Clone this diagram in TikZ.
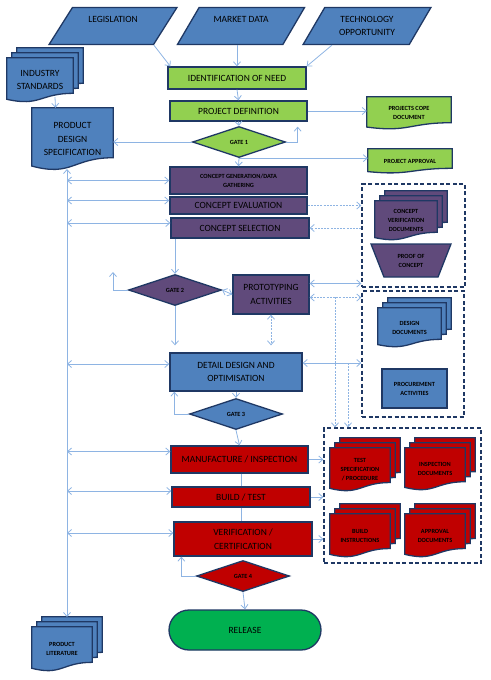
\documentclass[tikz,border=0pt]{standalone}
\usepackage{fontspec}
\setmainfont{Carlito}
\usetikzlibrary{shapes.geometric,arrows.meta,calc}
\pgfdeclarelayer{background}
\pgfsetlayers{background,main}

\definecolor{boxblue}{HTML}{4F81BD}
\definecolor{boxgreen}{HTML}{92D050}
\definecolor{boxpurple}{HTML}{604A7B}
\definecolor{boxred}{HTML}{C00000}
\definecolor{relgreen}{HTML}{00B050}
\definecolor{edgenavy}{HTML}{1F3864}
\definecolor{linkblue}{HTML}{8EB4E3}

\newcommand{\bigtxt}{\fontsize{9.5}{13.5}\selectfont}
\newcommand{\smalltxt}{\fontsize{6.3}{9}\selectfont\bfseries}

% document shape drawn round a node
\newcommand{\docpath}[3][]{%
  \draw[shapeline,fill=#3,#1] (#2.north west) -- (#2.north east)
    -- ($(#2.north east)!0.8!(#2.south east)$)
    .. controls ($(#2.north)!0.8!(#2.south)$) and ($(#2.north)!1.108!(#2.south)$)
    .. ($(#2.north west)!0.934!(#2.south west)$) -- cycle;}
\newcommand{\multidoc}[2]{%
  \docpath[transform canvas={shift={(10pt,10pt)}}]{#1}{#2}
  \docpath[transform canvas={shift={(5pt,5pt)}}]{#1}{#2}
  \docpath{#1}{#2}}

\tikzset{
  barb/.tip={Straight Barb[length=4pt,width=7pt]},
  shapeline/.style={draw=edgenavy,line width=1.3pt},
  stage/.style={shapeline,rectangle,inner sep=1pt,align=center,font=\bigtxt},
  iobox/.style={shapeline,fill=boxblue,trapezium,trapezium left angle=54,
    trapezium right angle=126,trapezium stretches=true,minimum width=128pt,
    minimum height=37pt,inner sep=0pt,align=center,font=\bigtxt},
  gate/.style={shapeline,diamond,aspect=3,inner sep=0pt,minimum width=93pt,
    minimum height=31pt,font=\smalltxt},
  doc/.style={inner sep=0pt,align=center},
  groupbox/.style={draw=edgenavy,line width=1.3pt,dash pattern=on 4pt off 2.5pt,inner sep=0pt},
  link/.style={draw=linkblue,line width=0.8pt,-barb},
  dlink/.style={link,barb-barb},
  dotlink/.style={dash pattern=on 2pt off 1.2pt}
}

\begin{document}
\begin{tikzpicture}[x=1pt,y=-1pt]
  \useasboundingbox (0,0) rectangle (490,680);

  % inputs
  \node[iobox] (leg) at (113,26) {LEGISLATION\\~};
  \node[iobox] (mkt) at (241,26) {MARKET DATA\\~};
  \node[iobox] (tech) at (367,26) {TECHNOLOGY\\OPPORTUNITY};

  % need and definition
  \node[stage,fill=boxgreen,minimum width=138pt,minimum height=22pt] (idn) at (237,78) {IDENTIFICATION OF NEED};
  \node[stage,fill=boxgreen,minimum width=137pt,minimum height=20pt] (pdef) at (238.5,111) {PROJECT DEFINITION};
  \node[gate,fill=boxgreen] (gate1) at (239,142) {GATE 1};
  \node[doc,font=\smalltxt,minimum width=84pt,minimum height=32pt] (psd) at (409,113) {PROJECTS COPE\\DOCUMENT};
  \node[doc,font=\smalltxt,minimum width=84pt,minimum height=24pt] (pappr) at (410,161) {PROJECT APPROVAL};
  \node[doc,font=\bigtxt,minimum width=66pt,minimum height=44pt] (indstd) at (40,80) {INDUSTRY\\STANDARDS};
  \node[doc,font=\bigtxt,minimum width=81pt,minimum height=62pt] (pds) at (72.5,139) {PRODUCT\\DESIGN\\SPECIFICATION};

  % concept
  \node[stage,fill=boxpurple,font=\smalltxt,minimum width=137pt,minimum height=27pt] (cgen) at (238.5,180.5) {CONCEPT GENERATION/DATA\\GATHERING};
  \node[stage,fill=boxpurple,minimum width=137pt,minimum height=17pt] (ceval) at (238.5,205.5) {CONCEPT EVALUATION};
  \node[stage,fill=boxpurple,minimum width=138pt,minimum height=20pt] (csel) at (240,228) {CONCEPT SELECTION};
  \node[groupbox,minimum width=103pt,minimum height=103pt] (grpA) at (413.5,235.5) {};
  \node[doc,font=\smalltxt,minimum width=62pt,minimum height=39pt] (cvd) at (406,220.5) {CONCEPT\\VERIFICATION\\DOCUMENTS};
  \node[shapeline,fill=boxpurple,trapezium,trapezium left angle=116,trapezium right angle=116,
    trapezium stretches=true,minimum width=80pt,minimum height=33pt,inner sep=0pt,
    align=center,font=\smalltxt] (poc) at (411,260.5) {PROOF OF\\CONCEPT};
  \node[gate,fill=boxpurple] (gate2) at (175,290) {GATE 2};
  \node[stage,fill=boxpurple,minimum width=76pt,minimum height=39pt] (proto) at (271,294.5) {PROTOTYPING\\ACTIVITIES};

  % detail design
  \node[groupbox,minimum width=102pt,minimum height=126pt] (grpB) at (413,354) {};
  \node[doc,font=\smalltxt,minimum width=63pt,minimum height=39pt] (ddoc) at (409.5,327.5) {DESIGN\\DOCUMENTS};
  \node[stage,fill=boxblue,font=\smalltxt,minimum width=65pt,minimum height=39pt] (proc) at (414.5,388.5) {PROCUREMENT\\ACTIVITIES};
  \node[stage,fill=boxblue,minimum width=132pt,minimum height=38pt] (dd) at (236,372) {DETAIL DESIGN AND\\OPTIMISATION};
  \node[gate,fill=boxblue] (gate3) at (236,414) {GATE 3};

  % manufacture
  \node[groupbox,minimum width=157pt,minimum height=135pt] (grpC) at (402.5,495.5) {};
  \node[stage,fill=boxred,minimum width=137pt,minimum height=27pt] (mfg) at (239.5,459.5) {MANUFACTURE / INSPECTION};
  \node[stage,fill=boxred,minimum width=138pt,minimum height=20pt] (build) at (241,497) {BUILD / TEST};
  \node[stage,fill=boxred,minimum width=138pt,minimum height=34pt] (verif) at (243,539) {VERIFICATION /\\CERTIFICATION};
  \node[gate,fill=boxred] (gate4) at (243,576) {GATE 4};
  \node[stage,fill=relgreen,rounded corners=20pt,minimum width=152pt,minimum height=40pt] (rel) at (245,630) {RELEASE};
  \node[doc,font=\smalltxt,minimum width=60pt,minimum height=43pt] (tsp) at (360,469.5) {TEST\\SPECIFICATION\\/ PROCEDURE};
  \node[doc,font=\smalltxt,minimum width=60pt,minimum height=42pt] (insp) at (435,469) {INSPECTION\\DOCUMENTS};
  \node[doc,font=\smalltxt,minimum width=60pt,minimum height=43pt] (bins) at (360,535.5) {BUILD\\INSTRUCTIONS};
  \node[doc,font=\smalltxt,minimum width=60pt,minimum height=43pt] (appr) at (435,535.5) {APPROVAL\\DOCUMENTS};
  \node[doc,font=\smalltxt,minimum width=60pt,minimum height=44pt] (plit) at (62,649) {PRODUCT\\LITERATURE};

  \begin{pgfonlayer}{background}
    \multidoc{indstd}{boxblue}
    \docpath{pds}{boxblue}
    \docpath{psd}{boxgreen}
    \docpath{pappr}{boxgreen}
    \multidoc{cvd}{boxpurple}
    \multidoc{ddoc}{boxblue}
    \multidoc{tsp}{boxred}
    \multidoc{insp}{boxred}
    \multidoc{bins}{boxred}
    \multidoc{appr}{boxred}
    \multidoc{plit}{boxblue}
  \end{pgfonlayer}

  % connectors
  \draw[link] (leg.bottom right corner) -- ([xshift=3pt]idn.north west);
  \draw[link] (idn.north |- mkt.south) -- (idn.north);
  \draw[link] ([xshift=30pt]tech.bottom left corner) -- (idn.north east);
  \draw[link] (idn.south) -- (pdef.north);
  \draw[link] (pdef.east) -- (pdef.east -| psd.west);
  \draw[link] (pdef.south) -- (gate1.north);
  \draw[link] (gate1.west) -- (gate1.west -| pds.east);
  \draw[link] (gate1.east) -| ([shift={(-10pt,-5pt)}]pdef.south east);
  \draw[link] (gate1.south) -- (cgen.north);
  \draw[link] (gate1.south) -- (gate1.south -| pappr.west);
  \draw[link] ([xshift=15pt,yshift=5pt]indstd.south) -- ([xshift=-17pt]pds.north);

  \coordinate (spinetop) at (67,169);
  \coordinate (spinebot) at (67,617);
  \draw[dlink] (spinetop) -- (spinebot);
  \draw[dlink] (spinetop |- cgen.west) -- (cgen.west);
  \draw[dlink] ([yshift=5pt]spinetop |- ceval.west) -- ([yshift=5pt]ceval.west);
  \draw[dlink] ([yshift=5pt]spinetop |- csel.west) -- ([yshift=5pt]csel.west);
  \draw[dlink] ([yshift=8pt]spinetop |- dd.west) -- ([yshift=8pt]dd.west);
  \draw[dlink] ([yshift=8pt]spinetop |- mfg.west) -- ([yshift=8pt]mfg.west);
  \draw[dlink] ([yshift=6pt]spinetop |- build.west) -- ([yshift=6pt]build.west);
  \draw[dlink] ([yshift=6pt]spinetop |- verif.west) -- ([yshift=6pt]verif.west);

  \draw[link,dotlink] (ceval.east) -- (ceval.east -| grpA.west);
  \draw[link,dotlink] (csel.east -| grpA.west) -- (csel.east);
  \draw[link] (csel.south -| gate2.north) -- (gate2.north);
  \coordinate (g2loop) at (113,272);
  \draw[link] (gate2.west) -| (g2loop);
  \draw[dlink] (gate2.east) -- (proto.west);
  \draw[dlink] ([yshift=11pt]proto.east) -- ([yshift=11pt]proto.east -| grpA.west);
  \draw[dlink,dotlink] ([yshift=-3pt]proto.east) -- ([yshift=-3pt]proto.east -| grpB.west);
  \draw[dlink,dotlink] (proto.south) -- ([yshift=7pt]proto.south |- dd.north);
  \draw[link] (gate2.south) -- ([yshift=7pt]gate2.south |- dd.north);

  \draw[dlink] ([yshift=9pt]dd.east) -- ([yshift=9pt]dd.east -| grpB.west);
  \coordinate (tapA) at (335,297);
  \coordinate (tapB) at (348,363);
  \draw[link,dotlink] (tapA) -- (tapA |- grpC.north);
  \draw[link,dotlink] (tapB) -- (tapB |- grpC.north);
  \draw[link] (dd.south) -- (gate3.north);
  \draw[link] (gate3.west) -| ([xshift=5pt]dd.south west);
  \draw[link] (gate3.south) -- (mfg.north);

  \draw[draw=linkblue,line width=0.8pt] (build.north |- mfg.south) -- (build.north);
  \draw[draw=linkblue,line width=0.8pt] (build.south) -- (build.south |- verif.north);
  \draw[link] (mfg.east) -- (mfg.east -| grpC.west);
  \draw[link] (build.east) -- (build.east -| grpC.west);
  \draw[link] (verif.east) -- (verif.east -| grpC.west);
  \draw[link] (gate4.west) -| ([xshift=8pt]verif.south west);
  \draw[link] (gate4.south) -- (rel.north);
\end{tikzpicture}
\end{document}
